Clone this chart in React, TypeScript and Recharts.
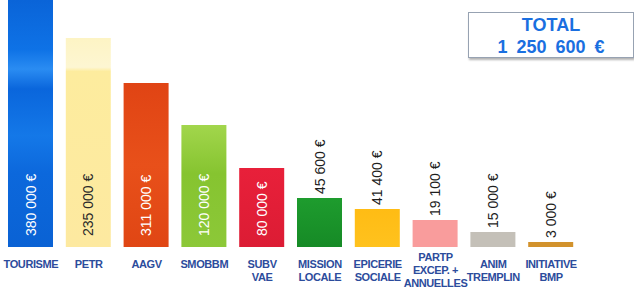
import React from "react";
import { BarChart, Bar, XAxis, YAxis, Cell, LabelList } from "recharts";

const categories = [
  "TOURISME",
  "PETR",
  "AAGV",
  "SMOBBM",
  "SUBV\nVAE",
  "MISSION\nLOCALE",
  "EPICERIE\nSOCIALE",
  "PARTP\nEXCEP. +\nANNUELLES",
  "ANIM\nTREMPLIN",
  "INITIATIVE\nBMP",
];

// bar heights as drawn in the picture (the drawing is not to scale with the labels)
const drawnHeights = [247000, 209000, 164000, 122000, 79000, 49000, 38000, 27000, 15000, 5000];

const amountLabels = [
  "380 000 €",
  "235 000 €",
  "311 000 €",
  "120 000 €",
  "80 000 €",
  "45 600 €",
  "41 400 €",
  "19 100 €",
  "15 000 €",
  "3 000 €",
];

const totalLabel = "1 250 600 €";

const fills = [
  "url(#gBlue)",
  "url(#gPetr)",
  "url(#gRed)",
  "url(#gGreen)",
  "url(#gCrimson)",
  "url(#gDarkGreen)",
  "url(#gYellow)",
  "#f99c9c",
  "#c4c0b8",
  "#d2922c",
];

const data = categories.map((c, i) => ({
  name: c,
  value: drawnHeights[i],
  label: amountLabels[i],
}));

const AmountLabel = (props: any) => {
  const { x, y, width, height, index } = props;
  const cx = x + width / 2;
  const inside = index < 5;
  const startY = inside ? y + height - 11 : y - 4;
  const color = inside ? (index === 1 ? "#2a2a2a" : "#ffffff") : "#1e1e1e";
  return (
    <text
      x={cx}
      y={startY}
      transform={`rotate(-90 ${cx} ${startY})`}
      textAnchor="start"
      dominantBaseline="central"
      fill={color}
      fontSize={14}
      fontFamily="'Liberation Sans', Arial, sans-serif"
    >
      {amountLabels[index]}
    </text>
  );
};

const CategoryTick = (props: any) => {
  const { x, y, payload } = props;
  const lines = String(payload.value).split("\n");
  const first = lines.length >= 3 ? 14 : 21;
  return (
    <text
      x={x}
      y={y}
      textAnchor="middle"
      fill="#2c4c9c"
      fontSize={11}
      fontWeight="bold"
      letterSpacing={-0.4}
      fontFamily="'Liberation Sans', Arial, sans-serif"
    >
      {lines.map((l, i) => (
        <tspan key={i} x={x} dy={i === 0 ? first : 13}>
          {l}
        </tspan>
      ))}
    </text>
  );
};

export default function App() {
  return (
    <div style={{ position: "absolute", left: 0, top: 0, width: 634, height: 304, background: "#fff", overflow: "hidden" }}>
      <BarChart
        width={634}
        height={304}
        data={data}
        margin={{ top: 0, right: 54, bottom: 0, left: 2 }}
        barCategoryGap="22%"
      >
        <defs>
          <linearGradient id="gBlue" x1="0" y1="0" x2="0" y2="1">
            <stop offset="0" stopColor="#0a64d8" />
            <stop offset="0.2" stopColor="#0e72e6" />
            <stop offset="0.28" stopColor="#2a8cf2" />
            <stop offset="0.36" stopColor="#0a66dc" />
            <stop offset="0.55" stopColor="#1478e8" />
            <stop offset="0.7" stopColor="#0c68dc" />
            <stop offset="1" stopColor="#0a62d4" />
          </linearGradient>
          <linearGradient id="gPetr" x1="0" y1="0" x2="0" y2="1">
            <stop offset="0" stopColor="#fdf4c4" />
            <stop offset="0.14" stopColor="#fdf6d2" />
            <stop offset="0.16" stopColor="#fdec9e" />
            <stop offset="1" stopColor="#fde9a0" />
          </linearGradient>
          <linearGradient id="gRed" x1="0" y1="0" x2="0" y2="1">
            <stop offset="0" stopColor="#e04414" />
            <stop offset="0.5" stopColor="#e8501a" />
            <stop offset="1" stopColor="#e04614" />
          </linearGradient>
          <linearGradient id="gGreen" x1="0" y1="0" x2="0" y2="1">
            <stop offset="0" stopColor="#a2d64c" />
            <stop offset="0.4" stopColor="#86c430" />
            <stop offset="1" stopColor="#8cc838" />
          </linearGradient>
          <linearGradient id="gCrimson" x1="0" y1="0" x2="0" y2="1">
            <stop offset="0" stopColor="#e8203a" />
            <stop offset="1" stopColor="#dc1c34" />
          </linearGradient>
          <linearGradient id="gDarkGreen" x1="0" y1="0" x2="0" y2="1">
            <stop offset="0" stopColor="#1e9c2e" />
            <stop offset="1" stopColor="#168a26" />
          </linearGradient>
          <linearGradient id="gYellow" x1="0" y1="0" x2="0" y2="1">
            <stop offset="0" stopColor="#ffbc14" />
            <stop offset="1" stopColor="#ffc21e" />
          </linearGradient>
        </defs>
        <YAxis hide domain={[0, 247000]} allowDataOverflow />
        <XAxis
          dataKey="name"
          axisLine={false}
          tickLine={false}
          tickSize={0}
          tickMargin={0}
          height={57}
          interval={0}
          tick={<CategoryTick />}
        />
        <Bar dataKey="value" barSize={45} isAnimationActive={false}>
          {data.map((d, i) => (
            <Cell key={d.name} fill={fills[i]} />
          ))}
          <LabelList dataKey="label" content={<AmountLabel />} />
        </Bar>
      </BarChart>
      <div
        style={{
          position: "absolute",
          left: 468,
          top: 12,
          width: 166,
          height: 46,
          boxSizing: "border-box",
          border: "1px solid #97a2b2",
          boxShadow: "1px 2px 2px rgba(0,0,0,0.3)",
          background: "#fff",
          color: "#1a6fe0",
          fontFamily: "'Liberation Sans', Arial, sans-serif",
          fontWeight: "bold",
          fontSize: 18,
          lineHeight: "22px",
          textAlign: "center",
          paddingTop: 1,
        }}
      >
        <div>TOTAL</div>
        <div style={{ wordSpacing: 4 }}>{totalLabel}</div>
      </div>
    </div>
  );
}
